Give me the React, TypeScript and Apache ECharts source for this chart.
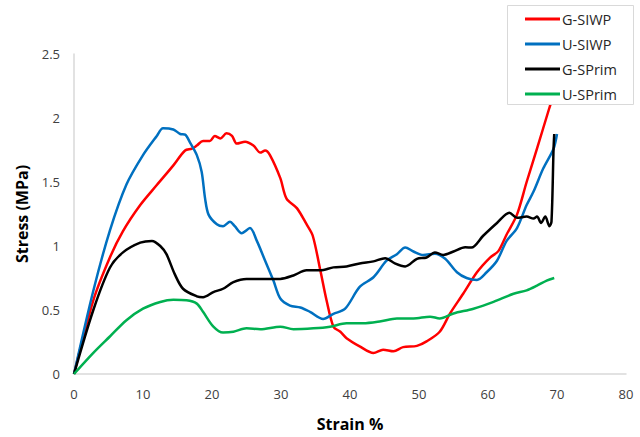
import React, { useEffect, useRef } from "react";
import * as echarts from "echarts";

const seriesNames = ["G-SIWP", "U-SIWP", "G-SPrim", "U-SPrim"];
const seriesColors = ["#ff0000", "#0070c0", "#000000", "#00b050"];

const gSIWP: [number, number][] = [
  [0, 0], [2.8, 0.576], [5.2, 0.91], [7.1, 1.116], [9.6, 1.32], [12.0, 1.476], [14.4, 1.63],
  [16.1, 1.746], [17.1, 1.76], [17.8, 1.785], [18.7, 1.82], [19.7, 1.82], [20.4, 1.86],
  [21.2, 1.84], [22.1, 1.88], [22.9, 1.86], [23.6, 1.8], [24.8, 1.815], [26.0, 1.785],
  [27.0, 1.73], [27.7, 1.746], [28.4, 1.71], [29.9, 1.53], [30.8, 1.37], [32.3, 1.296],
  [33.7, 1.17], [34.6, 1.08], [35.7, 0.81], [36.6, 0.576], [37.6, 0.37], [38.6, 0.33],
  [39.5, 0.28], [41.4, 0.216], [43.4, 0.164], [44.8, 0.19], [46.3, 0.177], [47.7, 0.21],
  [49.7, 0.22], [51.1, 0.255], [53.0, 0.33], [54.5, 0.473], [56.4, 0.627], [58.4, 0.795],
  [60.3, 0.91], [61.5, 0.96], [62.7, 1.09], [64.2, 1.245], [65.6, 1.5], [67.1, 1.76], [68.9, 2.08],
  [69.4, 2.16],
];

const uSIWP: [number, number][] = [
  [0, 0], [2.8, 0.65], [5.2, 1.12], [7.6, 1.48], [10.0, 1.71], [12.0, 1.86], [12.9, 1.92],
  [14.4, 1.91], [15.4, 1.875], [16.1, 1.87], [16.8, 1.81], [17.8, 1.71], [18.5, 1.58],
  [19.0, 1.37], [19.5, 1.245], [20.7, 1.17], [21.6, 1.155], [22.6, 1.19], [23.3, 1.155],
  [24.3, 1.1], [25.5, 1.14], [26.5, 1.04], [27.7, 0.885], [28.9, 0.73], [29.9, 0.59],
  [31.3, 0.535], [32.8, 0.52], [34.2, 0.486], [36.1, 0.43], [37.6, 0.47], [39.3, 0.51],
  [41.4, 0.68], [43.4, 0.756], [45.3, 0.885], [46.8, 0.936], [48.0, 0.988], [49.2, 0.957],
  [50.6, 0.93], [52.3, 0.94], [53.8, 0.9], [55.5, 0.795], [56.9, 0.75], [58.4, 0.735],
  [59.8, 0.795], [61.3, 0.885], [62.7, 1.04], [64.2, 1.14], [65.6, 1.32], [66.6, 1.425],
  [68.0, 1.605], [69.5, 1.76], [70.0, 1.875],
];

const gSPrim: [number, number][] = [
  [0, 0], [2.8, 0.5], [5.2, 0.83], [7.1, 0.95], [9.6, 1.026], [11.3, 1.04], [12.5, 1.0],
  [13.4, 0.936], [14.6, 0.78], [15.8, 0.666], [17.8, 0.607], [18.7, 0.6], [20.2, 0.64],
  [21.6, 0.666], [23.1, 0.718], [25.0, 0.743], [27.4, 0.743], [29.9, 0.743], [31.8, 0.77],
  [33.7, 0.81], [35.7, 0.81], [37.6, 0.833], [39.5, 0.84], [41.4, 0.864], [43.4, 0.88],
  [45.1, 0.905], [46.5, 0.864], [48.0, 0.84], [49.7, 0.9], [51.1, 0.91], [52.3, 0.95],
  [53.5, 0.93], [55.0, 0.957], [56.7, 0.99], [57.6, 0.988], [59.3, 1.08], [61.3, 1.18],
  [63.1, 1.26], [64.2, 1.22], [65.6, 1.23], [66.6, 1.215], [67.1, 1.23], [67.7, 1.18],
  [68.3, 1.23], [68.9, 1.155], [69.2, 1.19], [69.5, 1.76], [69.6, 1.875],
];

const uSPrim: [number, number][] = [
  [0, 0], [2.8, 0.165], [5.2, 0.293], [7.6, 0.42], [10.0, 0.51], [12.5, 0.563], [14.4, 0.58],
  [16.3, 0.576], [17.8, 0.55], [18.7, 0.486], [20.2, 0.37], [21.6, 0.324], [23.1, 0.33],
  [25.0, 0.357], [27.0, 0.35], [29.9, 0.37], [31.8, 0.35], [34.7, 0.357], [37.1, 0.37],
  [39.5, 0.396], [41.9, 0.396], [44.3, 0.41], [46.8, 0.434], [49.2, 0.434], [51.6, 0.448],
  [53.0, 0.434], [55.0, 0.473], [57.9, 0.51], [60.8, 0.563], [63.7, 0.627], [65.6, 0.653],
  [67.1, 0.69], [68.5, 0.73], [69.6, 0.75],
];

const seriesData = [gSIWP, uSIWP, gSPrim, uSPrim];

export default function App() {
  const ref = useRef<HTMLDivElement>(null);
  useEffect(() => {
    if (!ref.current) return;
    const chart = echarts.init(ref.current, undefined, { renderer: "svg" });
    const font = "'Open Sans', 'Noto Sans', sans-serif";
    chart.setOption({
      animation: false,
      backgroundColor: "#ffffff",
      textStyle: { fontFamily: font },
      grid: { left: 74, right: 14, top: 54, bottom: 60, containLabel: false },
      graphic: [
        {
          type: "rect",
          z: 50,
          shape: { x: 507.5, y: 5.5, width: 126, height: 99 },
          style: { fill: "#ffffff", stroke: "#d9d9d9", lineWidth: 1 },
        },
      ],
      legend: {
        orient: "vertical",
        left: 525,
        top: 11,
        padding: 0,
        z: 60,
        itemWidth: 35,
        itemHeight: 3,
        itemGap: 9,
        icon: "rect",
        data: seriesNames,
        textStyle: { fontFamily: font, fontSize: 14.5, color: "#262626", lineHeight: 16, padding: [0, 0, 0, -3] },
      },
      xAxis: {
        type: "value",
        min: 0,
        max: 80,
        interval: 10,
        name: "Strain %",
        nameLocation: "middle",
        nameGap: 42,
        nameTextStyle: { fontFamily: font, fontSize: 16, fontWeight: "bold", color: "#000000" },
        axisLine: { show: true, lineStyle: { color: "#d9d9d9", width: 1.5 } },
        axisTick: { show: false },
        splitLine: { show: false },
        axisLabel: { color: "#404040", fontSize: 13, margin: 13, fontFamily: font },
      },
      yAxis: {
        type: "value",
        min: 0,
        max: 2.5,
        interval: 0.5,
        name: "Stress (MPa)",
        nameLocation: "middle",
        nameGap: 44,
        nameRotate: 90,
        nameTextStyle: { fontFamily: font, fontSize: 16, fontWeight: "bold", color: "#000000" },
        axisLine: { show: true, lineStyle: { color: "#d9d9d9", width: 1.5 } },
        axisTick: { show: false },
        splitLine: { show: false },
        axisLabel: { color: "#404040", fontSize: 13, margin: 14, fontFamily: font },
      },
      series: seriesNames.map((name, i) => ({
        name,
        type: "line",
        data: seriesData[i],
        showSymbol: false,
        symbol: "none",
        smooth: 0.3,
        color: seriesColors[i],
        lineStyle: { color: seriesColors[i], width: 2.5 },
      })),
    });
    return () => chart.dispose();
  }, []);
  return <div ref={ref} style={{ position: "absolute", left: 0, top: 0, width: 640, height: 437 }} />;
}
